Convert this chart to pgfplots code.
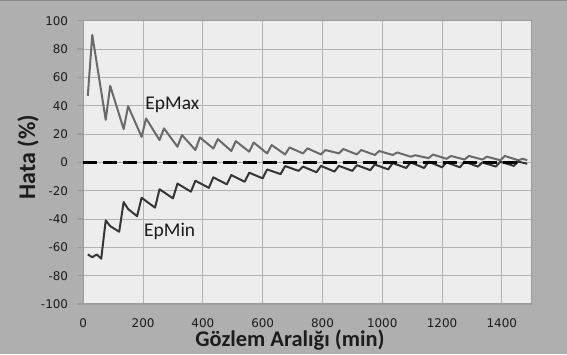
\documentclass[border=0pt]{standalone}
\usepackage{fontspec}
\setmainfont{Carlito}
\newfontfamily\tickfont{DejaVu Sans}
\usepackage{pgfplots}
\pgfplotsset{compat=1.18}
\definecolor{outerbg}{HTML}{AFAFAF}
\definecolor{plotbg}{HTML}{EDEDED}
\definecolor{gridc}{HTML}{B2B2B2}
\definecolor{axisc}{HTML}{9C9C9C}
\definecolor{maxc}{HTML}{6A6A6A}
\definecolor{minc}{HTML}{363636}
\definecolor{txt}{HTML}{1C1C1C}
\begin{document}
\begin{tikzpicture}[x=1bp,y=1bp]
\fill[outerbg] (0,0) rectangle (567,354);
\useasboundingbox (0,0) rectangle (567,354);
\draw[color={rgb,255:red,138;green,138;blue,138}, line width=1bp] (0,353.5)--(567,353.5);
\begin{axis}[
  at={(83.3bp,50bp)}, anchor=south west,
  scale only axis, width=448.4bp, height=283.3bp,
  xmin=0, xmax=1500, ymin=-100, ymax=100,
  xtick={0,200,...,1400}, ytick={-100,-80,...,100},
  grid=major, major grid style={draw=gridc, line width=1bp},
  axis background/.style={fill=plotbg},
  axis line style={draw=axisc, line width=1.3bp},
  ytick pos=left, xtick pos=bottom, tick align=outside,
  major tick length=6bp,
  ytick style={draw=axisc, line width=1.1bp},
  xtick style={draw=none},
  tick label style={font=\tickfont\fontsize{12}{13}\selectfont, text=txt},
  yticklabel style={anchor=east, inner sep=0pt, xshift=-9bp},
  xticklabel style={anchor=north, inner sep=0pt, yshift=-8bp},
  /pgf/number format/assume math mode=true,
  /pgf/number format/1000 sep={},
  clip=false,
]
\addplot[maxc, line width=2bp, line join=round] coordinates {
(15,47) (30,90) (75,30) (90,54) (135,23.5) (150,39.7) (195,18) (210,31)
(255,15.7) (270,24) (315,11) (330,19.3) (375,8.7) (390,17.6) (435,9.8)
(450,16.4) (495,8) (510,15) (555,7.5) (570,14) (615,6.3) (630,12.2)
(675,5.6) (690,10.5) (735,6.3) (750,9.9) (795,5.6) (810,8.7) (855,6.3)
(870,9.4) (915,5.6) (930,8.7) (975,5.2) (990,8) (1035,5.2) (1050,7)
(1095,4) (1110,5) (1155,3) (1170,5.5) (1215,2.5) (1230,4.5) (1275,2)
(1290,4.5) (1335,2) (1350,4) (1395,1.5) (1410,4.5) (1455,1.5) (1470,2.5)
(1485,1.5)
};
\addplot[minc, line width=2bp, line join=round] coordinates {
(15,-65) (30,-67) (45,-65) (60,-68) (75,-41) (90,-45) (120,-49) (135,-28)
(150,-33) (180,-38) (195,-25) (240,-32) (255,-19) (300,-25.4) (315,-15)
(360,-20.7) (375,-13) (420,-18) (435,-10.6) (480,-15.5) (495,-9)
(540,-13.7) (555,-7.3) (600,-11.3) (615,-5) (660,-8.3) (675,-2.6)
(720,-6) (735,-3) (780,-7) (795,-2.5) (840,-6.5) (855,-2.5) (900,-6)
(915,-2) (960,-5.5) (975,-1.5) (1020,-5) (1035,-0.5) (1080,-4) (1095,0)
(1140,-4) (1155,0.5) (1200,-3.5) (1215,0) (1260,-3.5) (1275,0.5)
(1320,-3) (1335,0) (1380,-3) (1395,0.5) (1440,-2.5) (1455,0.5) (1485,-1)
};
\addplot[black, line width=2.6bp, dash pattern=on 14bp off 6bp] coordinates {(0,0) (1470,0)};
\node[font=\fontsize{19.5}{20}\selectfont, text=txt] at (axis cs:298,40.4) {EpMax};
\node[font=\fontsize{19.5}{20}\selectfont, text=txt] at (axis cs:289,-49) {EpMin};
\end{axis}
\node[font=\bfseries\fontsize{22.5}{24}\selectfont, text=txt] at (290,14) {Gözlem Aralığı (min)};
\node[font=\bfseries\fontsize{24}{26}\selectfont, rotate=90, text=txt] at (28,197) {Hata (\%)};
\end{tikzpicture}
\end{document}
